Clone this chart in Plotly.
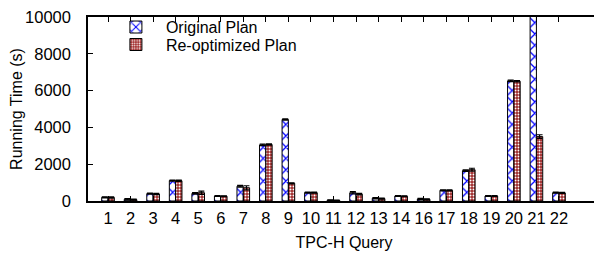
import plotly.graph_objects as go

queries = ["1","2","3","4","5","6","7","8","9","10","11","12","13","14","16","17","18","19","20","21","22"]
original = [200, 90, 400, 1110, 410, 270, 800, 3050, 4430, 460, 40, 450, 150, 270, 110, 580, 1650, 270, 6530, 11000, 450]
original_err = [30, 40, 30, 30, 40, 20, 50, 40, 30, 30, 20, 60, 30, 20, 30, 30, 40, 20, 40, 0, 30]
reoptimized = [190, 70, 380, 1100, 450, 260, 720, 3070, 960, 450, 30, 370, 130, 260, 90, 580, 1700, 270, 6510, 3500, 440]
reopt_err = [30, 30, 30, 30, 90, 20, 110, 40, 30, 30, 20, 40, 30, 20, 30, 30, 80, 20, 40, 100, 30]
y_ticks = [0, 2000, 4000, 6000, 8000, 10000]

font = "Liberation Sans, Arial, sans-serif"

fig = go.Figure()
fig.add_trace(go.Bar(
    x=queries, y=original, name="Original Plan", legend="legend",
    marker=dict(color="white", line=dict(color="black", width=1),
                pattern=dict(shape="x", fgcolor="#0000ff", bgcolor="white", size=8, solidity=0.3, fgopacity=1)),
    error_y=dict(type="data", array=original_err, color="black", thickness=1.2, width=3),
))
fig.add_trace(go.Bar(
    x=queries, y=reoptimized, name="Re-optimized Plan", legend="legend2",
    marker=dict(color="#a02828", line=dict(color="black", width=1),
                pattern=dict(shape=".", fgcolor="white", bgcolor="#a02828", size=3, solidity=0.35, fgopacity=1)),
    error_y=dict(type="data", array=reopt_err, color="black", thickness=1.2, width=3),
))

legend_common = dict(xanchor="left", yanchor="middle", bgcolor="rgba(0,0,0,0)",
                     font=dict(size=16, family=font), itemwidth=50, borderwidth=0)

fig.update_layout(
    width=602, height=261,
    margin=dict(l=80, r=10, t=9, b=68, autoexpand=False),
    paper_bgcolor="white", plot_bgcolor="white",
    barmode="group", bargap=0.44, bargroupgap=0,
    font=dict(family=font, size=16, color="black"),
    showlegend=True,
    legend=dict(x=0.035, y=0.945, **legend_common),
    legend2=dict(x=0.035, y=0.85, **legend_common),
)
fig.update_xaxes(
    type="category", range=[-0.887, 21.82], automargin=False,
    showline=True, linecolor="black", linewidth=1.5, mirror="ticks",
    ticks="inside", ticklen=5, tickcolor="black", ticklabelstandoff=1,
    showgrid=False, zeroline=False,
    title=dict(text="TPC-H Query", font=dict(size=16), standoff=11),
    tickfont=dict(size=16.5),
)
fig.update_yaxes(
    range=[0, 10000], tickvals=y_ticks, tickformat="d",
    automargin=False, ticklabeloverflow="allow",
    showline=True, linecolor="black", linewidth=1.5, mirror="ticks",
    ticks="inside", ticklen=5, tickcolor="black", ticklabelstandoff=12,
    showgrid=False, zeroline=False,
    title=dict(text="Running Time (s)", font=dict(size=16), standoff=3),
    tickfont=dict(size=16.5),
)

fig.write_html("out.html")
